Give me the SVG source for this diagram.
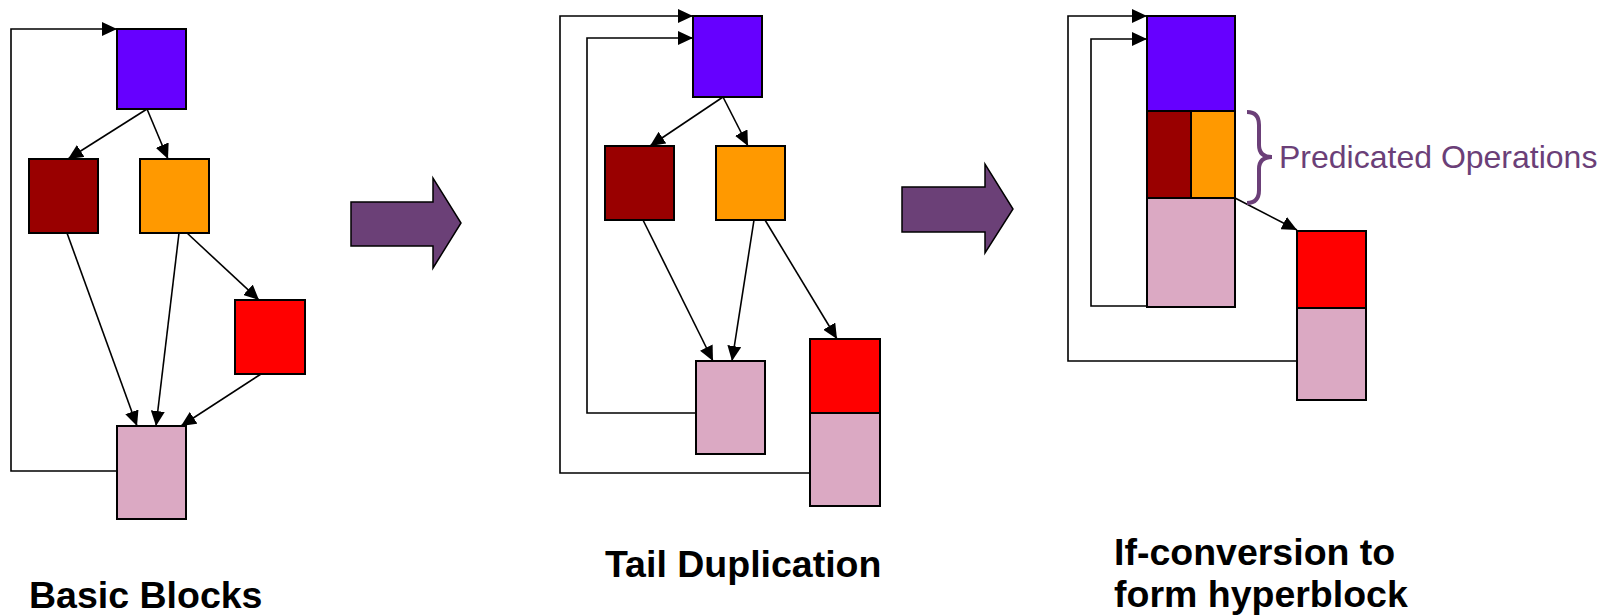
<svg xmlns="http://www.w3.org/2000/svg" width="1615" height="616" viewBox="0 0 1615 616">
<defs>
<marker id="ah" markerUnits="userSpaceOnUse" markerWidth="15" markerHeight="14" viewBox="0 0 15 14" refX="15" refY="7" orient="auto">
<path d="M0,0 L15,7 L0,14 z" fill="#000"/>
</marker>
<style>
.blk{stroke:#000;stroke-width:2}
.pu{fill:#6600FF}.dr{fill:#990000}.or{fill:#FF9900}.rd{fill:#FF0000}.pk{fill:#DBA9C3}
.e{fill:none;stroke:#000;stroke-width:1.6;marker-end:url(#ah)}
.big{fill:#6B4077;stroke:#000;stroke-width:1.5}
.lbl{font-family:"Liberation Sans",Arial,sans-serif;font-weight:bold;font-size:37.5px;fill:#000}
.pred{font-family:"Liberation Sans",Arial,sans-serif;font-size:32px;fill:#6B3F78}
</style>
</defs>
<rect width="1615" height="616" fill="#fff"/>

<g id="connectors">
<path class="e" d="M147,109 L68,159"/>
<path class="e" d="M147,109 L168,159"/>
<path class="e" d="M67,233 L137,426"/>
<path class="e" d="M179,233 L156,426"/>
<path class="e" d="M187,233 L259,300"/>
<path class="e" d="M261,374 L181,426"/>
<path class="e" d="M117,471 L11,471 L11,29 L117,29"/>

<path class="e" d="M723,97 L650,146"/>
<path class="e" d="M723,97 L748,146"/>
<path class="e" d="M643,220 L713,361"/>
<path class="e" d="M754,220 L732,361"/>
<path class="e" d="M765,220 L837,339"/>
<path class="e" d="M696,413 L587,413 L587,38 L693,38"/>
<path class="e" d="M810,473 L560,473 L560,16 L693,16"/>

<path class="e" d="M1235,198 L1297,230"/>
<path class="e" d="M1147,306 L1091,306 L1091,39 L1147,39"/>
<path class="e" d="M1297,361 L1068,361 L1068,16 L1147,16"/>
</g>

<g id="p1-entry"><rect class="blk pu" x="117" y="29" width="69" height="80"/></g>
<g id="p1-then"><rect class="blk dr" x="29" y="159" width="69" height="74"/></g>
<g id="p1-else"><rect class="blk or" x="140" y="159" width="69" height="74"/></g>
<g id="p1-side"><rect class="blk rd" x="235" y="300" width="70" height="74"/></g>
<g id="p1-join"><rect class="blk pk" x="117" y="426" width="69" height="93"/></g>

<g id="p2-entry"><rect class="blk pu" x="693" y="16" width="69" height="81"/></g>
<g id="p2-then"><rect class="blk dr" x="605" y="146" width="69" height="74"/></g>
<g id="p2-else"><rect class="blk or" x="716" y="146" width="69" height="74"/></g>
<g id="p2-join"><rect class="blk pk" x="696" y="361" width="69" height="93"/></g>
<g id="p2-side"><rect class="blk rd" x="810" y="339" width="70" height="74"/></g>
<g id="p2-dup"><rect class="blk pk" x="810" y="413" width="70" height="93"/></g>

<g id="p3-entry"><rect class="blk pu" x="1147" y="16" width="88" height="95"/></g>
<g id="p3-then"><rect class="blk dr" x="1147" y="111" width="44" height="87"/></g>
<g id="p3-else"><rect class="blk or" x="1191" y="111" width="44" height="87"/></g>
<g id="p3-join"><rect class="blk pk" x="1147" y="198" width="88" height="109"/></g>
<g id="p3-side"><rect class="blk rd" x="1297" y="231" width="69" height="77"/></g>
<g id="p3-dup"><rect class="blk pk" x="1297" y="308" width="69" height="92"/></g>

<g id="arrow1"><polygon class="big" points="351,202 433,202 433,178 461,223 433,268 433,246 351,246"/></g>
<g id="arrow2"><polygon class="big" points="902,187 985,187 985,164 1013,209 985,253 985,232 902,232"/></g>

<g id="brace">
<path d="M1247,112 Q1259,112 1259,125 L1259,145 Q1259,157 1272,157 Q1259,157 1259,169 L1259,190 Q1259,203 1247,203" fill="none" stroke="#6B3F78" stroke-width="4"/>
<text class="pred" x="1279" y="168">Predicated Operations</text>
</g>

<g id="labels">
<text class="lbl" x="29" y="608">Basic Blocks</text>
<text class="lbl" x="605" y="577">Tail Duplication</text>
<text class="lbl" x="1114" y="565">If-conversion to</text>
<text class="lbl" x="1114" y="607">form hyperblock</text>
</g>
</svg>
